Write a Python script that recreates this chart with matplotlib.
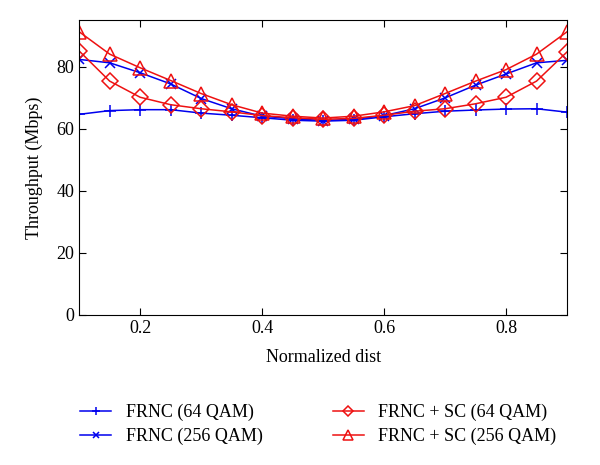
import numpy as np
import matplotlib
matplotlib.use('Agg')
import matplotlib.pyplot as plt

plt.rcParams['font.family'] = ['Liberation Serif', 'DejaVu Serif']

dist = [0.1, 0.15, 0.2, 0.25, 0.3, 0.35, 0.4, 0.45, 0.5,
        0.55, 0.6, 0.65, 0.7, 0.75, 0.8, 0.85, 0.9]

frnc64 = [64.6, 65.8, 66.1, 66.1, 65.0, 64.3, 63.5, 62.7, 62.4,
          62.7, 63.8, 64.8, 65.6, 66.0, 66.3, 66.4, 65.3]
frnc256 = [82.3, 81.2, 78.0, 74.4, 69.7, 66.4, 64.0, 63.2, 62.6,
           63.0, 64.2, 66.4, 69.9, 74.0, 77.6, 81.2, 82.0]
sc64 = [85.0, 75.3, 70.1, 67.7, 66.4, 65.4, 64.2, 63.5, 63.0,
        63.3, 64.3, 65.6, 66.4, 68.0, 70.1, 75.3, 84.7]
sc256 = [91.2, 84.0, 79.6, 75.5, 71.3, 67.7, 65.0, 64.0, 63.4,
         64.0, 65.4, 67.4, 71.3, 75.3, 79.0, 84.0, 91.2]

labels = ["FRNC (64 QAM)", "FRNC (256 QAM)",
          "FRNC + SC (64 QAM)", "FRNC + SC (256 QAM)"]

my_dpi = 100
fig = plt.figure(figsize=(600/my_dpi, 465/my_dpi), dpi=my_dpi)
ax1 = fig.add_axes([0.132, 0.323, 0.813, 0.634])

ax1.plot(dist, frnc64, color='#0000ee', lw=1.1, marker='+', ms=9, mew=1.1, label=labels[0])
ax1.plot(dist, frnc256, color='#0000ee', lw=1.1, marker='x', ms=7, mew=1.1, label=labels[1])
ax1.plot(dist, sc64, color='#ee1111', lw=1.1, marker='D', ms=8, mfc='none', mew=1.1, label=labels[2])
ax1.plot(dist, sc256, color='#ee1111', lw=1.1, marker='^', ms=10, mfc='none', mew=1.1, label=labels[3])

ax1.set_xlim(0.1, 0.9)
ax1.set_ylim(0, 95)
ax1.set_xticks([0.2, 0.4, 0.6, 0.8])
ax1.set_yticks([0, 20, 40, 60, 80])
ax1.tick_params(direction='in', top=True, right=True, labelsize=13, length=5)
ax1.set_xlabel("Normalized dist", fontsize=13, labelpad=9)
ax1.set_ylabel("Throughput (Mbps)", fontsize=13, labelpad=10)

h, l = ax1.get_legend_handles_labels()
fig.legend(h, l, loc='upper left', bbox_to_anchor=(0.107, 0.166), ncol=2,
           frameon=False, fontsize=13, columnspacing=3.9, handlelength=1.7,
           handletextpad=0.8, labelspacing=0.35, markerscale=0.7)

fig.savefig('out.png', dpi=my_dpi)
